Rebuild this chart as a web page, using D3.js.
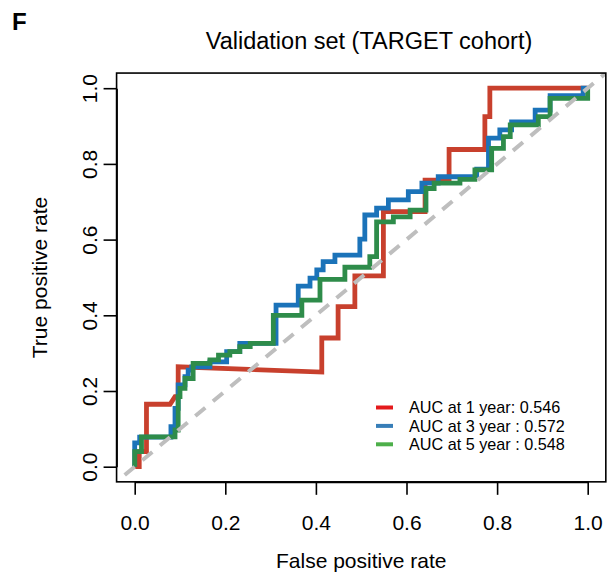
<!DOCTYPE html>
<html>
<head>
<meta charset="utf-8">
<script src="https://cdn.jsdelivr.net/npm/d3@7"></script>
<style>
  html, body { margin: 0; padding: 0; background: #fff; }
  svg { display: block; font-family: "Liberation Sans", Arial, Helvetica, sans-serif; }
</style>
</head>
<body>
<svg id="chart" width="612" height="574"></svg>
<script>
// ROC curves of the risk model at three time points (TARGET validation cohort)
const seriesNames = ["AUC at 1 year: 0.546", "AUC at 3 year : 0.572", "AUC at 5 year : 0.548"];
const lineColors = ["#c8402d", "#1b73b9", "#2e8c4a"];
const legendColors = ["#e41a1c", "#377eb8", "#4daf4a"];
const tickValues = [0, 0.2, 0.4, 0.6, 0.8, 1.0];

const fpr1 = [0, 0.010, 0.010, 0.026, 0.026, 0.078, 0.089, 0.096, 0.096, 0.413, 0.413, 0.449, 0.449, 0.486, 0.486, 0.549, 0.549, 0.641, 0.641, 0.694, 0.694, 0.773, 0.773, 0.784, 0.784, 1.0];
const tpr1 = [0, 0, 0.040, 0.040, 0.165, 0.165, 0.185, 0.185, 0.264, 0.250, 0.340, 0.340, 0.423, 0.423, 0.504, 0.504, 0.674, 0.674, 0.757, 0.757, 0.838, 0.838, 0.925, 0.925, 1.0, 1.0];

const fpr3 = [0, 0, 0.011, 0.011, 0.080, 0.080, 0.089, 0.089, 0.096, 0.096, 0.111, 0.111, 0.118, 0.118, 0.126, 0.126, 0.166, 0.166, 0.203, 0.203, 0.232, 0.232, 0.312, 0.312, 0.361, 0.361, 0.387, 0.387, 0.402, 0.402, 0.416, 0.416, 0.442, 0.442, 0.497, 0.497, 0.508, 0.508, 0.534, 0.534, 0.560, 0.560, 0.604, 0.604, 0.634, 0.634, 0.670, 0.670, 0.755, 0.755, 0.781, 0.781, 0.806, 0.806, 0.832, 0.832, 0.884, 0.884, 0.917, 0.917, 0.990, 0.990, 1.0];
const tpr3 = [0, 0.063, 0.063, 0.078, 0.078, 0.106, 0.106, 0.154, 0.154, 0.216, 0.216, 0.238, 0.238, 0.255, 0.255, 0.264, 0.264, 0.277, 0.277, 0.304, 0.304, 0.326, 0.326, 0.427, 0.427, 0.477, 0.477, 0.498, 0.498, 0.520, 0.520, 0.542, 0.542, 0.559, 0.559, 0.601, 0.601, 0.665, 0.665, 0.683, 0.683, 0.705, 0.705, 0.727, 0.727, 0.749, 0.749, 0.766, 0.766, 0.786, 0.786, 0.868, 0.868, 0.890, 0.890, 0.911, 0.911, 0.942, 0.942, 0.980, 0.980, 1.0, 1.0];

const fpr5 = [0, 0, 0.015, 0.015, 0.089, 0.089, 0.096, 0.096, 0.100, 0.100, 0.111, 0.111, 0.129, 0.129, 0.166, 0.166, 0.185, 0.185, 0.210, 0.210, 0.232, 0.232, 0.255, 0.255, 0.306, 0.306, 0.369, 0.369, 0.409, 0.409, 0.464, 0.464, 0.519, 0.519, 0.534, 0.534, 0.571, 0.571, 0.608, 0.608, 0.643, 0.643, 0.661, 0.661, 0.718, 0.718, 0.751, 0.751, 0.788, 0.788, 0.814, 0.814, 0.829, 0.829, 0.891, 0.891, 0.917, 0.917, 1.0, 1.0];
const tpr5 = [0, 0.040, 0.040, 0.079, 0.079, 0.097, 0.097, 0.185, 0.185, 0.207, 0.207, 0.233, 0.233, 0.273, 0.273, 0.282, 0.282, 0.295, 0.295, 0.304, 0.304, 0.317, 0.317, 0.326, 0.326, 0.400, 0.400, 0.440, 0.440, 0.495, 0.495, 0.527, 0.527, 0.555, 0.555, 0.647, 0.647, 0.660, 0.660, 0.678, 0.678, 0.735, 0.735, 0.749, 0.749, 0.759, 0.759, 0.784, 0.784, 0.841, 0.841, 0.872, 0.872, 0.903, 0.903, 0.925, 0.925, 0.973, 0.973, 1.0];

const curves = [
  { fpr: fpr1, tpr: tpr1 },
  { fpr: fpr3, tpr: tpr3 },
  { fpr: fpr5, tpr: tpr5 }
];

const svg = d3.select("#chart");

// Data range 0..1 with the usual 4% padding on every side of the plot box
const x = d3.scaleLinear().domain([0, 1]).range([134.7, 587.7]);
const y = d3.scaleLinear().domain([0, 1]).range([466.7, 88.2]);
const x0 = x(-0.04), x1 = x(1.04), y0 = y(-0.04), y1 = y(1.04);

const fontSize = 21;

// Clip region for everything drawn inside the box
svg.append("clipPath").attr("id", "plotClip")
  .append("rect").attr("x", x0).attr("y", y1).attr("width", x1 - x0).attr("height", y0 - y1);

const plot = svg.append("g").attr("clip-path", "url(#plotClip)");

const line = d3.line().x(d => x(d[0])).y(d => y(d[1]));

curves.forEach((c, i) => {
  const pts = c.fpr.map((v, k) => [v, c.tpr[k]]);
  plot.append("path")
    .datum(pts)
    .attr("d", line)
    .attr("fill", "none")
    .attr("stroke", lineColors[i])
    .attr("stroke-width", 4.8)
    .attr("stroke-linejoin", "miter")
    .attr("stroke-linecap", "butt");
});

// Reference diagonal
plot.append("path")
  .datum([[-0.1, -0.1], [1.1, 1.1]])
  .attr("d", line)
  .attr("fill", "none")
  .attr("stroke", "#bebebe")
  .attr("stroke-width", 4)
  .attr("stroke-dasharray", "13,10");

// Box
svg.append("rect")
  .attr("x", x0).attr("y", y1)
  .attr("width", x1 - x0).attr("height", y0 - y1)
  .attr("fill", "none").attr("stroke", "#000").attr("stroke-width", 1.6);

// Axes
const fmt = d3.format(".1f");
const xAxis = svg.append("g")
  .attr("transform", `translate(0,${y0})`)
  .call(d3.axisBottom(x).tickValues(tickValues).tickFormat(fmt).tickSize(13).tickSizeOuter(0).tickPadding(20));
xAxis.selectAll("text").attr("font-size", fontSize).attr("fill", "#000").attr("font-family", null);
xAxis.selectAll("line").attr("stroke", "#000").attr("stroke-width", 1.6);
xAxis.select(".domain").attr("stroke", "#000").attr("stroke-width", 1.6);

const yAxis = svg.append("g")
  .attr("transform", `translate(${x0},0)`)
  .call(d3.axisLeft(y).tickValues(tickValues).tickFormat(fmt).tickSize(13).tickSizeOuter(0));
yAxis.selectAll("text")
  .attr("font-size", fontSize).attr("fill", "#000").attr("font-family", null)
  .attr("x", 0).attr("dy", null).attr("text-anchor", "middle")
  .attr("transform", "translate(-20,0) rotate(-90)");
yAxis.selectAll("line").attr("stroke", "#000").attr("stroke-width", 1.6);
yAxis.select(".domain").attr("stroke", "#000").attr("stroke-width", 1.6);

// Axis titles
svg.append("text")
  .attr("x", (x0 + x1) / 2).attr("y", 568)
  .attr("text-anchor", "middle").attr("font-size", fontSize)
  .text("False positive rate");

svg.append("text")
  .attr("transform", `translate(47,${(y0 + y1) / 2}) rotate(-90)`)
  .attr("text-anchor", "middle").attr("font-size", fontSize)
  .text("True positive rate");

// Chart title and panel letter
svg.append("text")
  .attr("x", 369).attr("y", 49)
  .attr("text-anchor", "middle").attr("font-size", 23.5)
  .text("Validation set (TARGET cohort)");

svg.append("text")
  .attr("x", 12).attr("y", 30)
  .attr("font-size", 24).attr("font-weight", "bold")
  .text("F");

// Legend
const legend = svg.append("g").attr("transform", "translate(376,407.5)");
seriesNames.forEach((name, i) => {
  const row = legend.append("g").attr("transform", `translate(0,${i * 18.4})`);
  row.append("line")
    .attr("x1", 0).attr("x2", 17).attr("y1", 0).attr("y2", 0)
    .attr("stroke", legendColors[i]).attr("stroke-width", 4);
  row.append("text")
    .attr("x", 33).attr("y", 5.8)
    .attr("font-size", 16.2)
    .text(name);
});
</script>
</body>
</html>
